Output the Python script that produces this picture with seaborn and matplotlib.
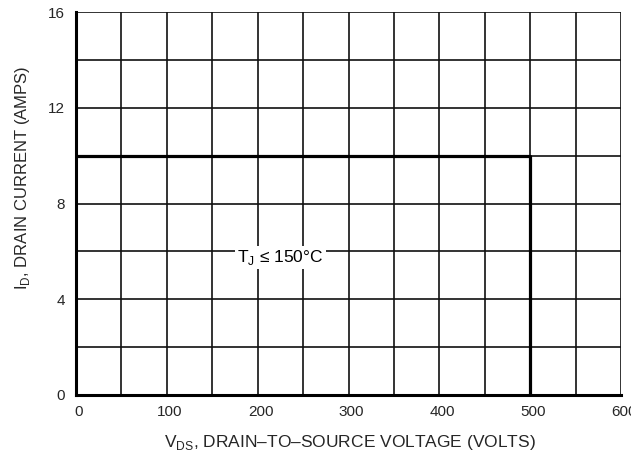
import matplotlib
matplotlib.use("Agg")
import matplotlib.pyplot as plt
import matplotlib.transforms as mtrans
import seaborn as sns
import pandas as pd
from matplotlib import font_manager

sns.set_theme(style="white")
names = {f.name for f in font_manager.fontManager.ttflist}
fam = "Liberation Sans Narrow" if "Liberation Sans Narrow" in names else "Liberation Sans"
plt.rcParams['font.family'] = [fam, 'DejaVu Sans']
plt.rcParams['mathtext.fontset'] = 'custom'
plt.rcParams['mathtext.rm'] = fam

# Data
vds = [0, 500, 500]
id_amps = [10, 10, 0]
x_ticks = [0, 100, 200, 300, 400, 500, 600]
y_ticks = [0, 4, 8, 12, 16]
annotation = r"T$_\mathregular{J}$ ≤ 150°C"

df = pd.DataFrame({"vds": vds, "id": id_amps})

fig = plt.figure(figsize=(6.31, 4.58), dpi=100)
ax = fig.add_axes([76/631, 1-395/458, (621-76)/631, (395-12)/458])

ax.set_xlim(0, 600)
ax.set_ylim(0, 16)
for xv in range(50, 601, 50):
    ax.axvline(xv, color="#111111", lw=1.2, zorder=1)
for yv in range(2, 17, 2):
    ax.axhline(yv, color="#111111", lw=1.2, zorder=1)

sns.lineplot(data=df, x="vds", y="id", sort=False, estimator=None,
             color="black", lw=2.3, ax=ax, zorder=3)

ax.text(225, 5.75, annotation, ha="center", va="center", fontsize=12.5, color="black",
        bbox=dict(facecolor="white", edgecolor="none", pad=1.5), zorder=4)

ax.set_xticks(x_ticks)
ax.set_yticks(y_ticks)
ax.set_xticklabels([str(v) for v in x_ticks], fontsize=11)
ax.set_yticklabels([str(v) for v in y_ticks], fontsize=11)
ax.tick_params(axis="x", length=0, pad=7)
ax.tick_params(axis="y", length=0, pad=8)
off = mtrans.ScaledTranslation(3/100, 0, fig.dpi_scale_trans)
for lbl in ax.get_xticklabels():
    lbl.set_transform(lbl.get_transform() + off)

ax.set_xlabel(r"V$_\mathregular{DS}$, DRAIN–TO–SOURCE VOLTAGE (VOLTS)", fontsize=12.5)
ax.set_ylabel(r"I$_\mathregular{D}$, DRAIN CURRENT (AMPS)", fontsize=12)
ax.yaxis.set_label_coords(-0.080, (395-178)/383)
ax.xaxis.set_label_coords((350-76)/545, -0.098)

for s in ["top", "right"]:
    ax.spines[s].set_visible(False)
for s in ["left", "bottom"]:
    ax.spines[s].set_color("black")
    ax.spines[s].set_linewidth(2.2)
    ax.spines[s].set_zorder(5)

fig.savefig("out.png", dpi=100)
